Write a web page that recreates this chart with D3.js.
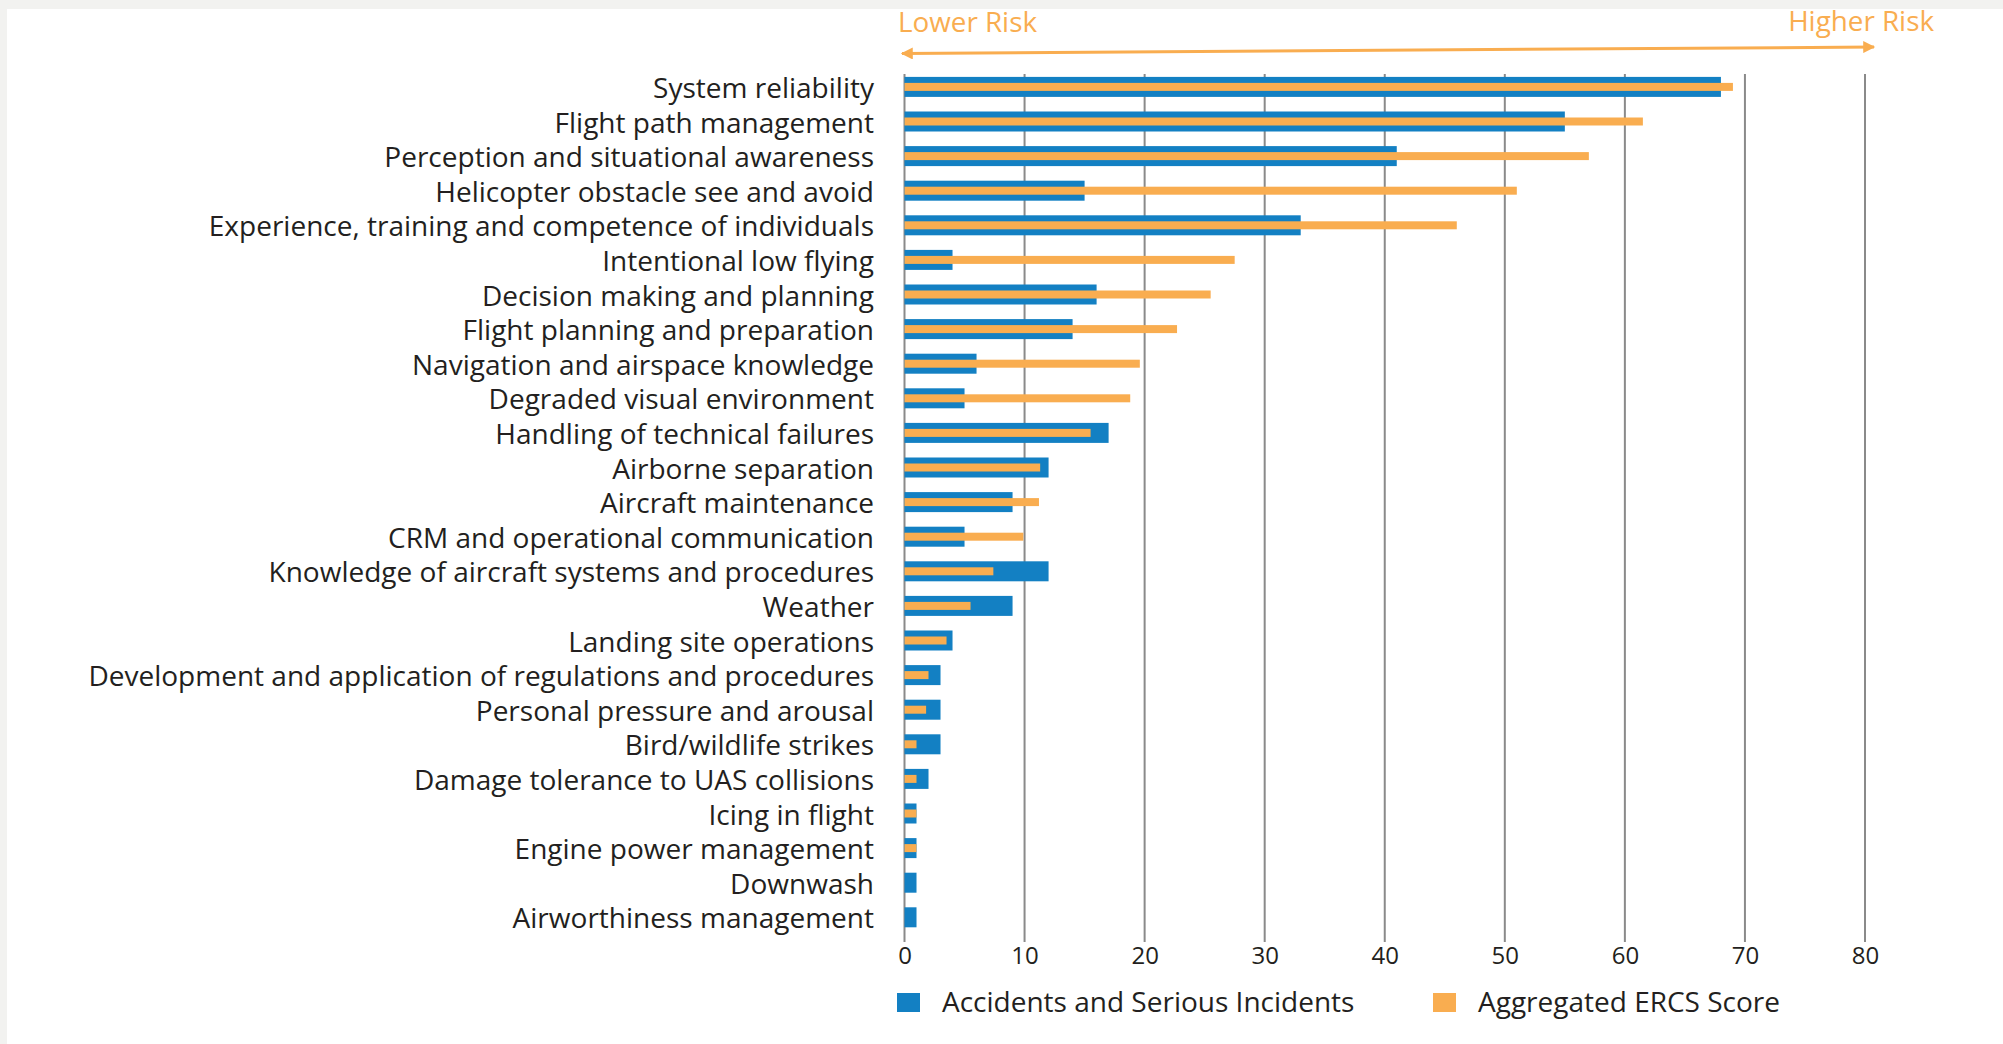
<!DOCTYPE html>
<html>
<head>
<meta charset="utf-8">
<script src="https://cdn.jsdelivr.net/npm/d3@7"></script>
<style>
  html, body { margin: 0; padding: 0; background: #ffffff; }
  svg { display: block; }
</style>
</head>
<body>
<svg id="chart" width="2003" height="1044"></svg>
<script>
// ---------------- DATA ----------------
const categories = [
  "System reliability",
  "Flight path management",
  "Perception and situational awareness",
  "Helicopter obstacle see and avoid",
  "Experience, training and competence of individuals",
  "Intentional low flying",
  "Decision making and planning",
  "Flight planning and preparation",
  "Navigation and airspace knowledge",
  "Degraded visual environment",
  "Handling of technical failures",
  "Airborne separation",
  "Aircraft maintenance",
  "CRM and operational communication",
  "Knowledge of aircraft systems and procedures",
  "Weather",
  "Landing site operations",
  "Development and application of regulations and procedures",
  "Personal pressure and arousal",
  "Bird/wildlife strikes",
  "Damage tolerance to UAS collisions",
  "Icing in flight",
  "Engine power management",
  "Downwash",
  "Airworthiness management"
];
const accidents = [68, 55, 41, 15, 33, 4, 16, 14, 6, 5, 17, 12, 9, 5, 12, 9, 4, 3, 3, 3, 2, 1, 1, 1, 1];
const ercsScore = [69, 61.5, 57, 51, 46, 27.5, 25.5, 22.7, 19.6, 18.8, 15.5, 11.3, 11.2, 9.9, 7.4, 5.5, 3.5, 2, 1.8, 1, 1, 1, 1, 0, 0];
const tickValues = [0, 10, 20, 30, 40, 50, 60, 70, 80];
const seriesNames = ["Accidents and Serious Incidents", "Aggregated ERCS Score"];
const riskLabels = ["Lower Risk", "Higher Risk"];

// ---------------- STYLE ----------------
const BLUE = "#1380c3";
const ORANGE = "#f9ad50";
const GRID = "#8a8a8a";
const TEXT = "#231f20";
const FONT = "'Open Sans', 'Noto Sans', sans-serif";

const svg = d3.select("#chart");

// light grey frame (top and left)
svg.append("rect").attr("x", 0).attr("y", 0).attr("width", 2003).attr("height", 9).attr("fill", "#f2f2f0");
svg.append("rect").attr("x", 0).attr("y", 0).attr("width", 7).attr("height", 1044).attr("fill", "#f2f2f0");

// scales
const x = d3.scaleLinear().domain([0, 80]).range([904.5, 1865]);
const y = d3.scaleBand().domain(categories).range([69.6, 69.6 + 34.6 * categories.length]).paddingInner(0).paddingOuter(0);

const rows = categories.map((c, i) => ({ cat: c, acc: accidents[i], ercs: ercsScore[i] }));

// gridlines
const gridTop = 74, gridBottom = 942;
svg.append("g").selectAll("line").data(tickValues).join("line")
  .attr("x1", d => x(d)).attr("x2", d => x(d))
  .attr("y1", gridTop).attr("y2", gridBottom)
  .attr("stroke", GRID).attr("stroke-width", 2);

// x-axis tick labels via d3 axis
const axis = d3.axisBottom(x).tickValues(tickValues).tickSize(0).tickPadding(0).tickFormat(d3.format("d"));
const axG = svg.append("g").attr("transform", `translate(0, ${gridBottom})`).call(axis);
axG.select(".domain").remove();
axG.selectAll("text")
  .attr("dy", null).attr("y", 12.5)
  .attr("dominant-baseline", "central")
  .style("font-family", FONT).style("font-size", "24px").attr("fill", TEXT);

// bars
const BLUE_H = 20, ORANGE_H = 8;
svg.append("g").selectAll("rect").data(rows).join("rect")
  .attr("x", x(0)).attr("width", d => x(d.acc) - x(0))
  .attr("y", d => y(d.cat) + y.bandwidth() / 2 - BLUE_H / 2).attr("height", BLUE_H)
  .attr("fill", BLUE);
svg.append("g").selectAll("rect").data(rows).join("rect")
  .attr("x", x(0)).attr("width", d => x(d.ercs) - x(0))
  .attr("y", d => y(d.cat) + y.bandwidth() / 2 - ORANGE_H / 2).attr("height", ORANGE_H)
  .attr("fill", ORANGE);

// category labels (y axis)
const yAxis = d3.axisLeft(y).tickSize(0).tickPadding(0);
const yG = svg.append("g").attr("transform", "translate(874,0)").call(yAxis);
yG.select(".domain").remove();
yG.selectAll("text")
  .attr("x", 0).attr("dy", null)
  .attr("dominant-baseline", "central")
  .attr("text-anchor", "end")
  .style("font-family", FONT).attr("fill", TEXT);
// fit font size so the longest label matches the reference width
const longest = yG.selectAll("text").filter(d => d === categories[17]);
yG.selectAll("text").style("font-size", "30px");
const w30 = longest.node().getComputedTextLength();
const labelSize = 30 * 786 / w30;
yG.selectAll("text").style("font-size", labelSize + "px");

// risk arrow
const defs = svg.append("defs");
defs.append("marker").attr("id", "ah").attr("viewBox", "0 0 10 10")
  .attr("refX", 9).attr("refY", 5).attr("markerWidth", 7.5).attr("markerHeight", 4)
  .attr("markerUnits", "strokeWidth").attr("orient", "auto-start-reverse")
  .append("path").attr("d", "M0,0 L10,5 L0,10 z").attr("fill", ORANGE);
svg.append("line")
  .attr("x1", 902).attr("y1", 53.5).attr("x2", 1874).attr("y2", 47)
  .attr("stroke", ORANGE).attr("stroke-width", 3)
  .attr("marker-start", "url(#ah)").attr("marker-end", "url(#ah)");

svg.append("text").text(riskLabels[0])
  .attr("x", 898).attr("y", 32)
  .style("font-family", FONT).style("font-size", "27.8px").attr("fill", ORANGE);
svg.append("text").text(riskLabels[1])
  .attr("x", 1934).attr("y", 31).attr("text-anchor", "end")
  .style("font-family", FONT).style("font-size", "27.8px").attr("fill", ORANGE);

// legend
const legend = [
  { name: seriesNames[0], color: BLUE, x: 897 },
  { name: seriesNames[1], color: ORANGE, x: 1433 }
];
const lg = svg.append("g").selectAll("g").data(legend).join("g")
  .attr("transform", d => `translate(${d.x}, 993)`);
lg.append("rect").attr("width", 23).attr("height", 19).attr("fill", d => d.color);
lg.append("text").text(d => d.name)
  .attr("x", 45).attr("y", 8).attr("dominant-baseline", "central")
  .style("font-family", FONT).style("font-size", "28px").attr("fill", TEXT);
</script>
</body>
</html>
